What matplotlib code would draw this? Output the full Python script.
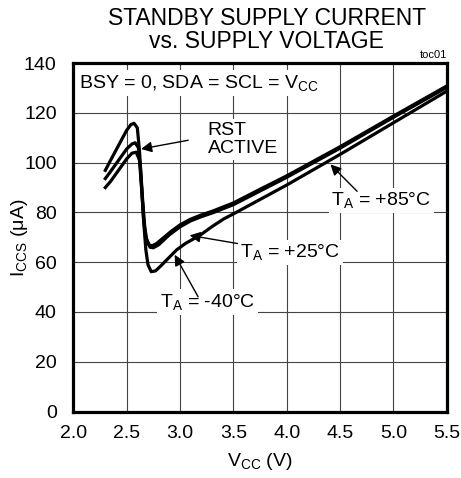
import matplotlib
matplotlib.use("Agg")
import matplotlib.pyplot as plt

plt.rcParams['font.family'] = ['Liberation Sans', 'DejaVu Sans']
plt.rcParams['mathtext.default'] = 'regular'

# supply voltage (V) and standby current (uA)
vcc_top = [2.30, 2.35, 2.40, 2.45, 2.50, 2.54, 2.57, 2.60, 2.62, 2.64, 2.66, 2.68,
           2.71, 2.74, 2.78, 2.85, 2.92, 3.00, 3.10, 3.20, 3.31, 3.41, 3.50, 3.75,
           4.00, 4.50, 5.00, 5.50]
icc_top = [96.9, 101.0, 105.0, 109.0, 113.0, 115.3, 115.8, 114.0, 105.0, 90.0, 77.0, 70.0,
           67.0, 66.6, 67.5, 70.0, 72.5, 75.0, 77.3, 79.0, 80.6, 82.3, 83.8, 89.3,
           94.7, 106.4, 118.7, 130.8]

vcc_mid = [2.30, 2.35, 2.40, 2.45, 2.50, 2.55, 2.58, 2.61, 2.63, 2.65, 2.67, 2.69,
           2.72, 2.75, 2.80, 2.90, 3.00, 3.10, 3.20, 3.31, 3.41, 3.50, 3.75, 4.00,
           4.50, 5.00, 5.50]
icc_mid = [93.6, 96.5, 99.5, 102.5, 105.5, 107.5, 108.0, 106.0, 98.0, 85.0, 74.0, 68.5,
           66.0, 65.8, 67.0, 71.0, 74.2, 76.6, 78.3, 79.9, 81.6, 83.1, 88.6, 94.1,
           105.8, 118.2, 130.2]

vcc_low = [2.30, 2.35, 2.40, 2.45, 2.50, 2.55, 2.59, 2.62, 2.64, 2.66, 2.68, 2.70,
           2.73, 2.77, 2.82, 2.90, 2.97, 3.05, 3.19, 3.30, 3.41, 3.50, 4.00, 4.50,
           5.00, 5.50]
icc_low = [90.0, 92.5, 95.5, 98.5, 101.5, 103.8, 104.2, 101.0, 90.0, 76.0, 65.0, 59.0,
           56.2, 56.5, 58.5, 62.0, 65.0, 67.5, 70.9, 74.3, 77.4, 79.4, 91.0, 103.3,
           116.0, 128.7]

xticks = [2.0, 2.5, 3.0, 3.5, 4.0, 4.5, 5.0, 5.5]
yticks = [0, 20, 40, 60, 80, 100, 120, 140]

fig = plt.figure(figsize=(4.61, 4.78), dpi=100)
ax = fig.add_axes([0.159, 0.139, 0.81, 0.729])

for v, i in [(vcc_low, icc_low), (vcc_mid, icc_mid), (vcc_top, icc_top)]:
    ax.plot(v, i, color='black', lw=2.3, solid_joinstyle='round', zorder=3)

ax.set_xlim(2.0, 5.5)
ax.set_ylim(0, 140)
ax.set_xticks(xticks)
ax.set_xticklabels([f'{x:.1f}' for x in xticks])
ax.set_yticks(yticks)
ax.tick_params(length=0, labelsize=14, colors='black')
ax.tick_params(axis='x', pad=10)
ax.tick_params(axis='y', pad=12)
ax.grid(True, color='#444444', lw=0.8)
ax.set_axisbelow(True)
for s in ax.spines.values():
    s.set_linewidth(2.3)

ax.set_xlabel('V$_{CC}$ (V)', fontsize=14, labelpad=6)
ax.set_ylabel('I$_{CCS}$ (μA)', fontsize=14)
ax.yaxis.set_label_coords(-0.115, 0.5)

fig.text(0.579, 0.985, 'STANDBY SUPPLY CURRENT\nvs. SUPPLY VOLTAGE', ha='center', va='top',
         fontsize=16.5, linespacing=1.0)
ax.text(1.0, 1.008, 'toc01', transform=ax.transAxes, ha='right', va='bottom', fontsize=8)

box = dict(facecolor='white', edgecolor='none', pad=2)
ax.text(2.056, 132, 'BSY = 0, SDA = SCL = V$_{CC}$', fontsize=14, va='center', ha='left',
        bbox=box, zorder=4)

arrow = dict(arrowstyle='-|>', color='black', lw=1, mutation_scale=16,
             shrinkA=0, shrinkB=0)
ax.text(3.26, 109.3, 'RST\nACTIVE', fontsize=14, ha='left', va='center',
        linespacing=1.05, bbox=box, zorder=4)
ax.annotate('', xy=(2.635, 105.5), xytext=(3.077, 109.0), arrowprops=arrow, zorder=5)

ax.text(4.42, 84.9, 'T$_A$ = +85°C', fontsize=14, ha='left', va='center', bbox=box, zorder=4)
ax.annotate('', xy=(4.41, 99.3), xytext=(4.66, 88.5), arrowprops=arrow, zorder=5)

ax.text(3.56, 64.0, 'T$_A$ = +25°C', fontsize=14, ha='left', va='center', bbox=box, zorder=4)
ax.annotate('', xy=(3.09, 70.8), xytext=(3.54, 67.5), arrowprops=arrow, zorder=5)

ax.text(2.81, 44.1, 'T$_A$ = -40°C', fontsize=14, ha='left', va='center', bbox=box, zorder=4)
ax.annotate('', xy=(2.95, 63.0), xytext=(3.17, 46.1), arrowprops=arrow, zorder=5)

fig.savefig('out.png', dpi=100)
